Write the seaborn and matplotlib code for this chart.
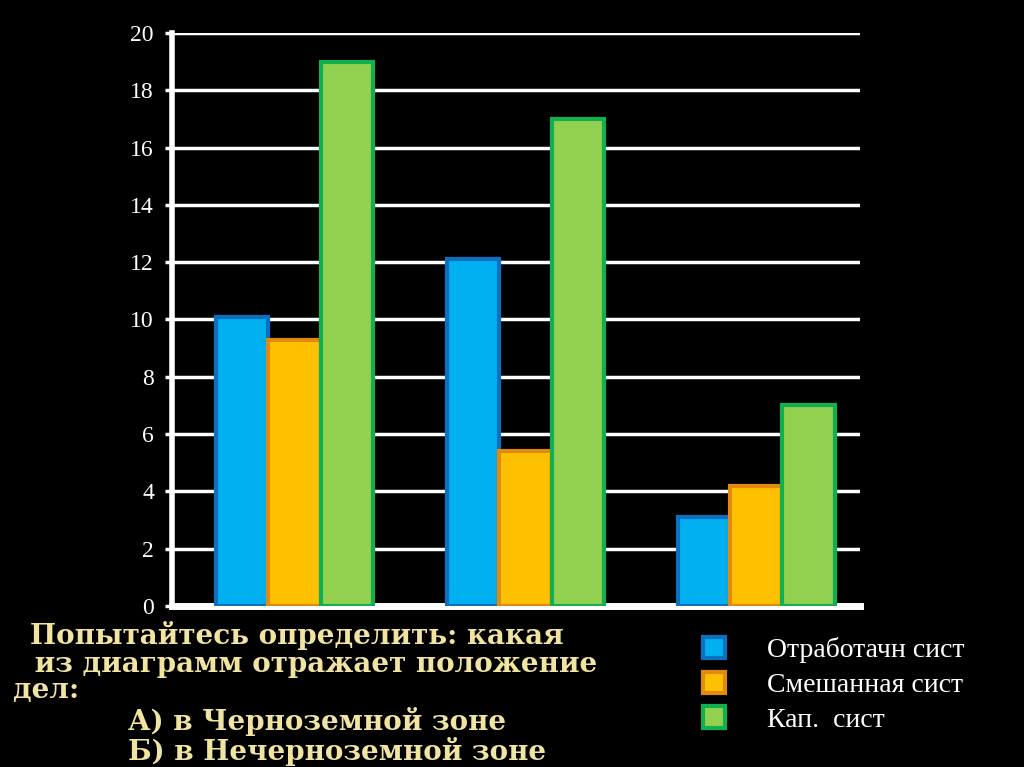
import pandas as pd
import seaborn as sns
import matplotlib.pyplot as plt

# values
groups = ["1", "2", "3"]
series = ["Отработачн сист", "Смешанная сист", "Кап.  сист"]
otrab = [10.1, 12.1, 3.1]
smesh = [9.3, 5.4, 4.2]
kap = [19.0, 17.0, 7.0]
y_ticks = list(range(0, 21, 2))

fills = ["#00B0F0", "#FFC000", "#92D050"]
edges = ["#0A70C0", "#E08A10", "#10B050"]

question = [
    "Попытайтесь определить: какая",
    " из диаграмм отражает положение",
    "дел:",
    "А) в Черноземной зоне",
    "Б) в Нечерноземной зоне",
]

df = pd.DataFrame({
    "group": groups * 3,
    "series": [s for s in series for _ in groups],
    "value": otrab + smesh + kap,
})

sns.set_theme(style="dark")
plt.rcParams.update({
    "figure.facecolor": "black",
    "axes.facecolor": "black",
    "savefig.facecolor": "black",
})

fig = plt.figure(figsize=(10.24, 7.67), dpi=100)
ax = fig.add_axes([0.168, 0.210, 0.672, 0.747])

sns.barplot(df, x="group", y="value", hue="series", hue_order=series,
            palette=fills, width=0.68, gap=0, saturation=1, legend=False, ax=ax, zorder=3)
for cont, ec in zip(ax.containers, edges):
    for p in cont:
        p.set_edgecolor(ec)
        p.set_linewidth(3)

ax.set_xlim(-0.53, 2.45)
ax.set_ylim(0, 20)
ax.set_yticks(y_ticks)
ax.set_xticks([])
ax.set_xlabel("")
ax.set_ylabel("")
ax.yaxis.grid(True, color="white", linewidth=2.5, zorder=0)
ax.set_axisbelow(True)
ax.tick_params(axis="y", colors="white", length=5, width=2.5, pad=8, left=True,
               labelsize=17)
for lbl in ax.get_yticklabels():
    lbl.set_fontfamily("Liberation Serif")
for side in ["top", "right"]:
    ax.spines[side].set_visible(False)
ax.spines["left"].set_color("white")
ax.spines["left"].set_linewidth(4)
ax.spines["bottom"].set_color("white")
ax.spines["bottom"].set_linewidth(5)

fig.legend(ax.containers, series, loc="upper left", bbox_to_anchor=(0.662, 0.202),
           frameon=False, handlelength=0.8, handleheight=0.8, handletextpad=1.5,
           labelspacing=0.3, prop={"family": "Liberation Serif", "size": 20},
           labelcolor="white")

qx = [30, 25, 13, 128, 128]
qy = [636, 664, 691, 721, 751]
for t, x, y in zip(question, qx, qy):
    fig.text(x / 1024, 1 - y / 767, t, color="#F0E4A0", fontsize=20,
             family="DejaVu Serif", fontweight="bold", va="center", ha="left")

fig.savefig("out.png", dpi=100)
